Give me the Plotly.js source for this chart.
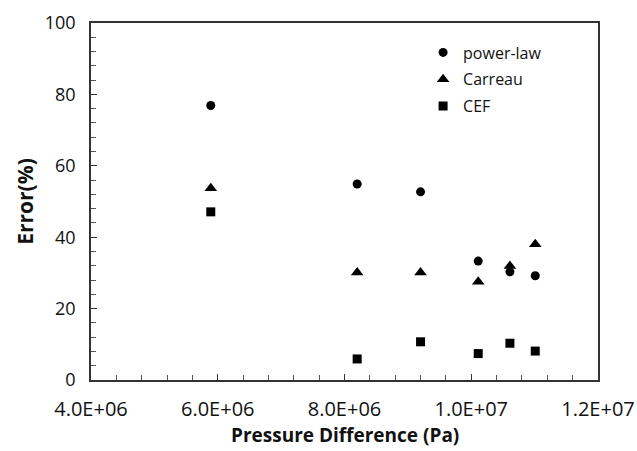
<!DOCTYPE html>
<html>
<head>
<meta charset="utf-8">
<script src="https://cdn.plot.ly/plotly-3.0.1.min.js"></script>
<style>html,body{margin:0;padding:0;background:#fff;}#chart{width:637px;height:451px;}</style>
</head>
<body>
<div id="chart"></div>
<script>
const pressure = [5.89e6, 8.2e6, 9.2e6, 1.011e7, 1.061e7, 1.101e7];
const powerLaw = [76.9, 54.9, 52.7, 33.3, 30.3, 29.2];
const carreau = [53.7, 30.1, 30.1, 27.5, 31.9, 38.0];
const cef = [47.1, 5.9, 10.7, 7.4, 10.3, 8.1];
const seriesNames = ['power-law', 'Carreau', 'CEF'];
const xTickVals = [4e6, 6e6, 8e6, 1e7, 1.2e7];
const xTickText = ['4.0E+06', '6.0E+06', '8.0E+06', '1.0E+07', '1.2E+07'];

const font = 'Open Sans, Liberation Sans, sans-serif';
const mk = (sym, s) => ({symbol: sym, size: s, color: '#000'});
const traces = [
  {x: pressure, y: powerLaw, name: seriesNames[0], legendgroup: 'a', mode: 'markers', type: 'scatter', marker: mk('circle', 9)},
  {x: pressure, y: carreau, name: seriesNames[1], legendgroup: 'b', mode: 'markers', type: 'scatter', marker: mk('triangle-up', 11)},
  {x: pressure, y: cef, name: seriesNames[2], legendgroup: 'c', mode: 'markers', type: 'scatter', marker: mk('square', 9)}
];
const layout = {
  width: 637, height: 451,
  margin: {l: 91, r: 39, t: 23, b: 71},
  paper_bgcolor: '#fff', plot_bgcolor: '#fff',
  font: {family: font, color: '#111'},
  showlegend: true,
  legend: {x: 0.655, y: 0.965, xanchor: 'left', yanchor: 'top', font: {size: 16, family: font, color: '#111'}, bgcolor: 'rgba(0,0,0,0)', tracegroupgap: 3},
  annotations: [{
    text: '<b>Pressure Difference (Pa)</b>', xref: 'paper', yref: 'paper', x: 0.5, y: -0.194,
    xanchor: 'center', yanchor: 'bottom', borderpad: 0, showarrow: false, font: {size: 19, family: font, color: '#111'}
  }],
  xaxis: {
    range: [4e6, 1.2e7], tickvals: xTickVals, ticktext: xTickText,
    ticks: 'inside', ticklen: 6, tickwidth: 1.2, tickcolor: '#333',
    minor: {dtick: 4e5, ticks: 'inside', ticklen: 5, tickwidth: 1, tickcolor: '#555', showgrid: false},
    showgrid: false, zeroline: false, showline: true, linecolor: '#333', linewidth: 1.8, mirror: true,
    tickfont: {size: 20, family: font, color: '#111'}, ticklabelstandoff: 10
  },
  yaxis: {
    range: [0, 100], dtick: 20,
    ticks: 'inside', ticklen: 6, tickwidth: 1.2, tickcolor: '#333',
    minor: {dtick: 4, ticks: 'inside', ticklen: 5, tickwidth: 1, tickcolor: '#555', showgrid: false},
    showgrid: false, zeroline: false, showline: true, linecolor: '#333', linewidth: 1.8, mirror: true,
    tickfont: {size: 18, family: font, color: '#111'}, ticklabelstandoff: 10,
    title: {text: '<b>Error(%)</b>', font: {size: 21, family: font, color: '#111'}, standoff: 5}
  }
};
Plotly.newPlot('chart', traces, layout, {displayModeBar: false, staticPlot: true});
</script>
</body>
</html>
